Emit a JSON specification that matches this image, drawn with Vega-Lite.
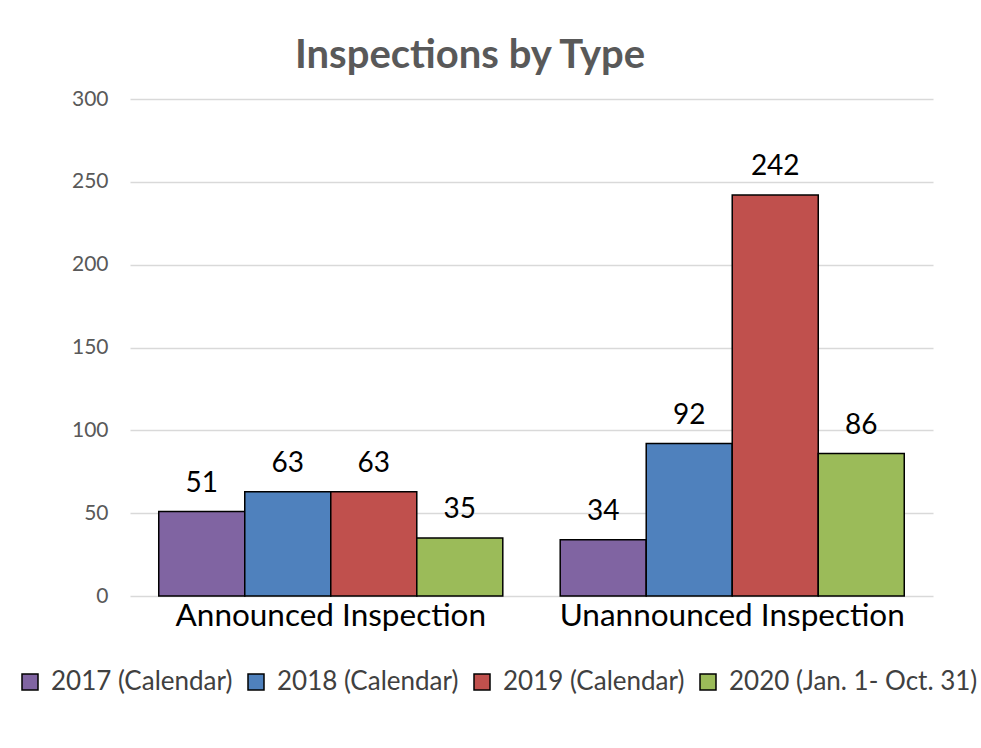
{
  "$schema": "https://vega.github.io/schema/vega-lite/v6.json",
  "width": 803,
  "height": 497,
  "autosize": "none",
  "padding": {"left": 130, "top": 99, "right": 48, "bottom": 152},
  "background": "white",
  "config": {
    "font": "Lato",
    "view": {"stroke": null}
  },
  "title": {
    "text": "Inspections by Type",
    "font": "Lato",
    "fontSize": 40,
    "fontWeight": "bold",
    "color": "#595959",
    "anchor": "start",
    "frame": "group",
    "dx": 165,
    "offset": 12
  },
  "data": {
    "values": [
      {"type": "Announced Inspection", "year": "2017 (Calendar)", "value": 51},
      {"type": "Announced Inspection", "year": "2018 (Calendar)", "value": 63},
      {"type": "Announced Inspection", "year": "2019 (Calendar)", "value": 63},
      {"type": "Announced Inspection", "year": "2020 (Jan. 1- Oct. 31)", "value": 35},
      {"type": "Unannounced Inspection", "year": "2017 (Calendar)", "value": 34},
      {"type": "Unannounced Inspection", "year": "2018 (Calendar)", "value": 92},
      {"type": "Unannounced Inspection", "year": "2019 (Calendar)", "value": 242},
      {"type": "Unannounced Inspection", "year": "2020 (Jan. 1- Oct. 31)", "value": 86}
    ]
  },
  "encoding": {
    "x": {
      "field": "type",
      "type": "nominal",
      "sort": null,
      "scale": {"paddingInner": 0.143, "paddingOuter": 0.0716},
      "axis": {
        "title": null,
        "labelAngle": 0,
        "labelFontSize": 31.5,
        "labelColor": "#000000",
        "labelFont": "Lato",
        "labelLimit": 0,
        "ticks": false,
        "domain": false,
        "labelPadding": 4
      }
    },
    "xOffset": {
      "field": "year",
      "type": "nominal",
      "sort": ["2017 (Calendar)", "2018 (Calendar)", "2019 (Calendar)", "2020 (Jan. 1- Oct. 31)"],
      "scale": {"paddingInner": 0, "paddingOuter": 0}
    },
    "y": {
      "field": "value",
      "type": "quantitative",
      "scale": {"domain": [0, 300]},
      "axis": {
        "title": null,
        "values": [0, 50, 100, 150, 200, 250, 300],
        "labelFontSize": 21,
        "labelColor": "#595959",
        "labelFont": "Lato",
        "ticks": false,
        "domain": false,
        "labelPadding": 22,
        "gridColor": "#d9d9d9",
        "gridWidth": 1.5
      }
    }
  },
  "layer": [
    {
      "mark": {"type": "bar", "stroke": "#000000", "strokeWidth": 1.5},
      "encoding": {
        "color": {
          "field": "year",
          "type": "nominal",
          "sort": ["2017 (Calendar)", "2018 (Calendar)", "2019 (Calendar)", "2020 (Jan. 1- Oct. 31)"],
          "scale": {"range": ["#8064A2", "#4F81BD", "#C0504D", "#9BBB59"]},
          "legend": {
            "title": null,
            "orient": "none",
            "direction": "horizontal",
            "legendX": -113,
            "legendY": 570,
            "symbolType": "square",
            "symbolSize": 256,
            "symbolStrokeColor": "#000000",
            "symbolStrokeWidth": 1.5,
            "symbolOpacity": 1,
            "labelFontSize": 26,
            "labelColor": "#404040",
            "labelFont": "Lato",
            "labelLimit": 0,
            "labelOffset": 8,
            "columnPadding": 10
          }
        }
      }
    },
    {
      "mark": {"type": "text", "baseline": "alphabetic", "dy": -20, "fontSize": 28, "color": "#000000", "font": "Lato"},
      "encoding": {
        "text": {"field": "value", "type": "quantitative"}
      }
    }
  ]
}
